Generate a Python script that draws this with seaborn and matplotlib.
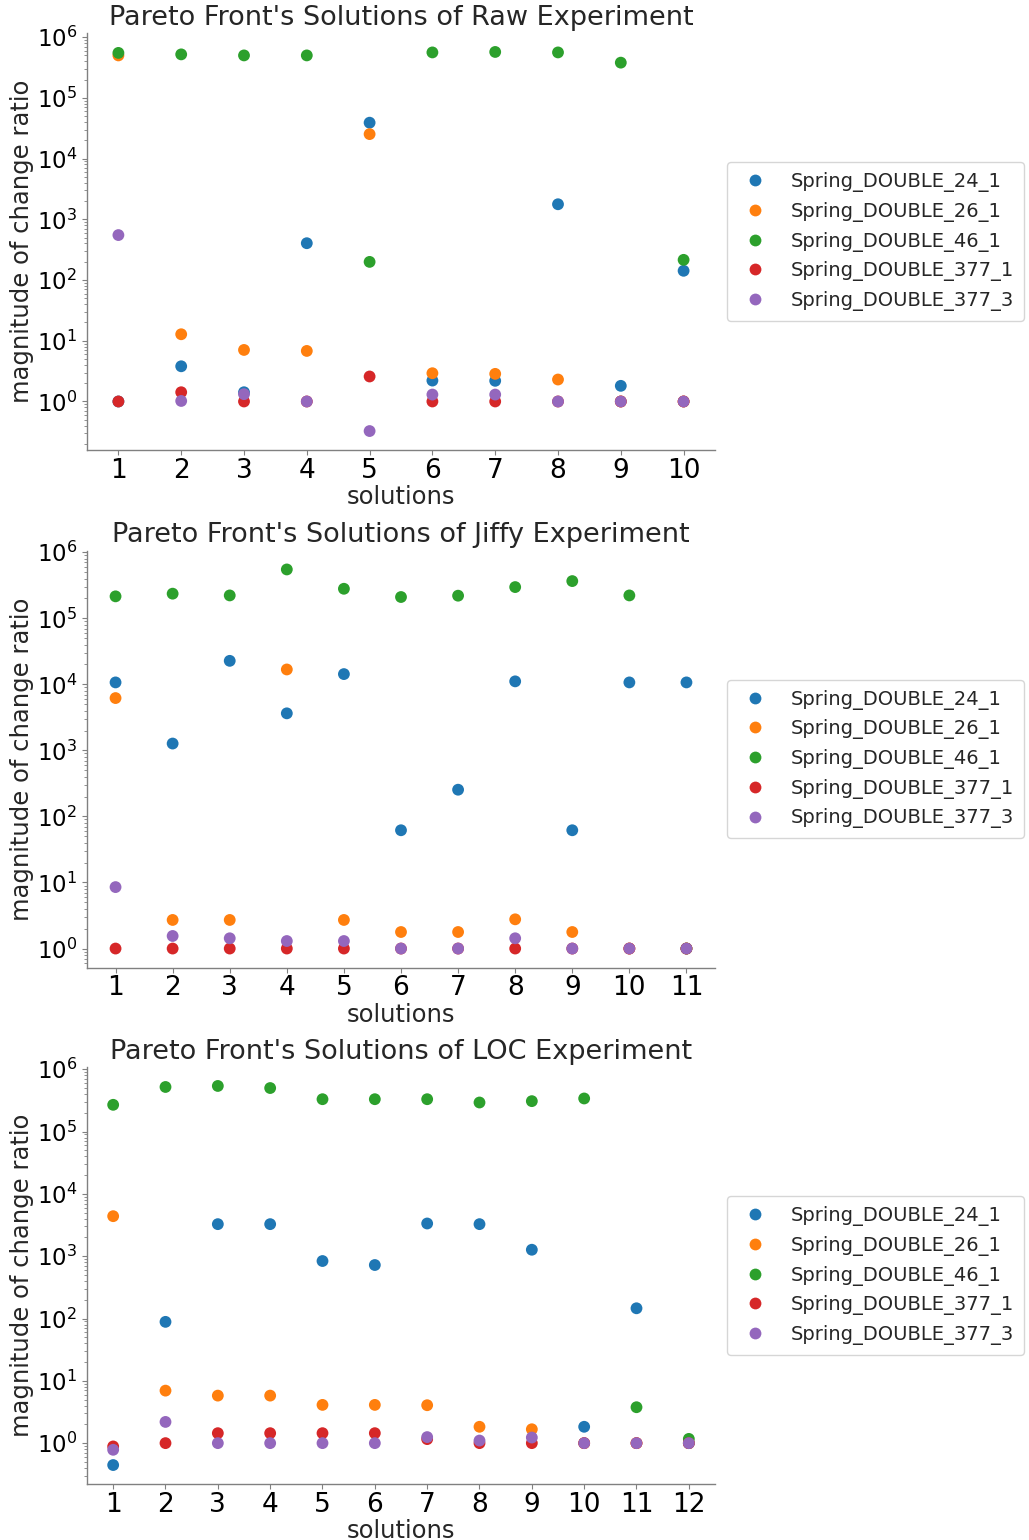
import numpy as np
import pandas as pd
import matplotlib
matplotlib.use("Agg")
import matplotlib.pyplot as plt
import seaborn as sns

series_names = ["Spring_DOUBLE_24_1", "Spring_DOUBLE_26_1", "Spring_DOUBLE_46_1",
                "Spring_DOUBLE_377_1", "Spring_DOUBLE_377_3"]

# ---- Raw experiment (10 solutions) ----
raw_solutions = [str(i) for i in range(1, 11)]
raw_24_1 = [1.0, 3.8, 1.42, 404, 3.9e4, 2.21, 2.19, 1770, 1.81, 142]
raw_26_1 = [5.0e5, 12.8, 7.06, 6.8, 2.53e4, 2.92, 2.85, 2.30, 1.0, 1.0]
raw_46_1 = [5.5e5, 5.2e5, 5.0e5, 5.0e5, 199, 5.6e5, 5.7e5, 5.6e5, 3.8e5, 215]
raw_377_1 = [1.0, 1.42, 1.0, 1.0, 2.58, 1.0, 1.0, 1.0, 1.0, 1.0]
raw_377_3 = [550, 1.02, 1.32, 1.0, 0.326, 1.30, 1.30, 1.0, 1.0, 1.0]

# ---- Jiffy experiment (11 solutions) ----
jiffy_solutions = [str(i) for i in range(1, 12)]
jiffy_24_1 = [1.07e4, 1270, 2.27e4, 3640, 1.43e4, 61.8, 254, 1.11e4, 61.8, 1.07e4, 1.07e4]
jiffy_26_1 = [6200, 2.71, 2.71, 1.68e4, 2.71, 1.78, 1.78, 2.77, 1.78, 1.0, 1.0]
jiffy_46_1 = [2.15e5, 2.36e5, 2.22e5, 5.49e5, 2.8e5, 2.1e5, 2.2e5, 2.97e5, 3.66e5, 2.22e5, 1.0]
jiffy_377_1 = [1.0, 1.0, 1.0, 1.0, 1.0, 1.0, 1.0, 1.0, 1.0, 1.0, 1.0]
jiffy_377_3 = [8.52, 1.55, 1.43, 1.30, 1.30, 1.0, 1.0, 1.43, 1.0, 1.0, 1.0]

# ---- LOC experiment (12 solutions) ----
loc_solutions = [str(i) for i in range(1, 13)]
loc_24_1 = [0.445, 88.4, 3270, 3270, 837, 722, 3350, 3270, 1270, 1.83, 146, 1.0]
loc_26_1 = [4390, 6.96, 5.79, 5.79, 4.11, 4.11, 4.06, 1.83, 1.67, 1.0, 1.0, 1.0]
loc_46_1 = [2.69e5, 5.2e5, 5.4e5, 5.0e5, 3.31e5, 3.31e5, 3.31e5, 2.93e5, 3.08e5, 3.4e5, 3.77, 1.17]
loc_377_1 = [0.885, 1.0, 1.445, 1.445, 1.445, 1.445, 1.16, 1.0, 1.0, 1.0, 1.0, 1.0]
loc_377_3 = [0.782, 2.19, 1.0, 1.0, 1.0, 1.0, 1.25, 1.10, 1.23, 1.0, 1.0, 1.0]

titles = ["Pareto Front's Solutions of Raw Experiment",
          "Pareto Front's Solutions of Jiffy Experiment",
          "Pareto Front's Solutions of LOC Experiment"]

experiments = [
    (raw_solutions, [raw_24_1, raw_26_1, raw_46_1, raw_377_1, raw_377_3]),
    (jiffy_solutions, [jiffy_24_1, jiffy_26_1, jiffy_46_1, jiffy_377_1, jiffy_377_3]),
    (loc_solutions, [loc_24_1, loc_26_1, loc_46_1, loc_377_1, loc_377_3]),
]

sns.set_style("ticks")
plt.rcParams.update({
    "font.family": ["DejaVu Sans"],
    "axes.edgecolor": "0.5",
    "xtick.color": "0.5",
    "ytick.color": "0.5",
    "xtick.labelcolor": "black",
    "ytick.labelcolor": "black",
    "xtick.major.size": 3.5,
    "ytick.major.size": 3.5,
    "ytick.minor.size": 2,
    "axes.linewidth": 1.0,
})

fig = plt.figure(figsize=(10.29, 15.4), dpi=100)
palette = sns.color_palette("tab10", 5)

bottoms_px = [450, 967.5, 1484]
for i, ((sols, vals), title) in enumerate(zip(experiments, titles)):
    rows = []
    for name, v in zip(series_names, vals):
        for s, y in zip(sols, v):
            rows.append({"solutions": s, "value": y, "series": name})
    df = pd.DataFrame(rows)
    b = bottoms_px[i]
    ax = fig.add_axes([87 / 1029, (1540 - b) / 1540, 628 / 1029, 417 / 1540])
    ax.set_yscale("log")
    sns.stripplot(data=df, x="solutions", y="value", hue="series", order=sols,
                  hue_order=series_names, palette=palette, jitter=False,
                  size=8.5, linewidth=0, ax=ax)
    ax.set_title(title, fontsize=19.5)
    ax.set_xlabel("solutions", fontsize=17.5, labelpad=1)
    ax.set_ylabel("magnitude of change ratio", fontsize=17.5, labelpad=2)
    ax.tick_params(axis="x", which="major", labelsize=19, pad=2)
    ax.tick_params(axis="y", which="major", labelsize=16.5)
    sns.despine(ax=ax)
    ax.legend(loc="center left", bbox_to_anchor=(12 / 628, 0.5), bbox_transform=ax.transAxes,
              borderaxespad=0, fontsize=14, frameon=True, borderpad=0.5,
              handlelength=1.9, handletextpad=0.9, markerscale=1.0,
              labelspacing=0.5)
    leg = ax.get_legend()
    leg.set_bbox_to_anchor((1 + 12 / 628, 0.5), transform=ax.transAxes)

fig.savefig("out.png", dpi=100)
